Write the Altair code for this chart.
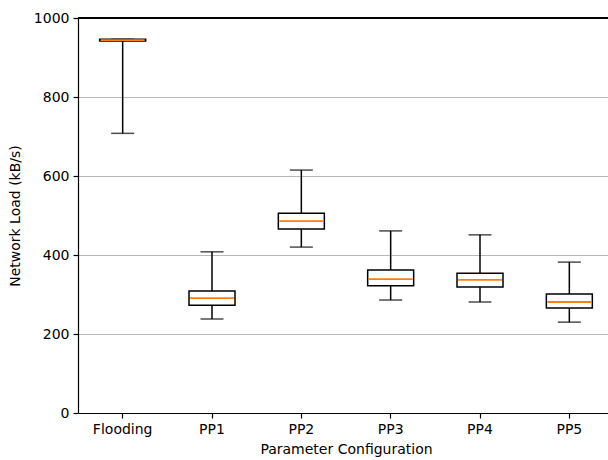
import altair as alt
import pandas as pd

categories = ["Flooding", "PP1", "PP2", "PP3", "PP4", "PP5"]
whisker_low = [708, 238, 420, 286, 281, 230]
q1 = [942, 273, 466, 322, 319, 266]
median = [944, 291, 486, 339, 337, 281]
q3 = [946, 309, 506, 362, 354, 301]
whisker_high = [946, 408, 615, 461, 451, 382]

df = pd.DataFrame({
    "cat": categories,
    "wl": whisker_low,
    "q1": q1,
    "med": median,
    "q3": q3,
    "wh": whisker_high,
})

FONT = "DejaVu Sans"
FS = 14
x = alt.X("cat:N", sort=categories, title="Parameter Configuration",
          scale=alt.Scale(range=[0, 536], paddingInner=0, paddingOuter=0),
          axis=alt.Axis(labelAngle=0, tickSize=5, labelPadding=4, titlePadding=6,
                        domainColor="black", tickColor="black", labelColor="black",
                        titleColor="black", labelFontSize=FS, titleFontSize=FS,
                        titleFontWeight="normal", labelFont=FONT, titleFont=FONT,
                        domainWidth=1.2, tickWidth=1.2))
yscale = alt.Scale(domain=[0, 1000], nice=False)
yaxis = alt.Axis(values=[0, 200, 400, 600, 800, 1000], format="d", tickSize=5, labelPadding=4,
                 titlePadding=11, grid=True, gridColor="#b0b0b0", gridWidth=0.9,
                 domainColor="black", tickColor="black", labelColor="black",
                 titleColor="black", labelFontSize=FS, titleFontSize=FS,
                 titleFontWeight="normal", labelFont=FONT, titleFont=FONT,
                 domainWidth=1.2, tickWidth=1.2)

base = alt.Chart(df)

whisk_lo = base.mark_rule(color="black", strokeWidth=1.5).encode(
    x=x, y=alt.Y("wl:Q", scale=yscale, axis=yaxis, title="Network Load (kB/s)"), y2="q1:Q")
whisk_hi = base.mark_rule(color="black", strokeWidth=1.5).encode(
    x=x, y=alt.Y("q3:Q"), y2="wh:Q")
cap_lo = base.mark_tick(color="black", size=23, thickness=1.5, orient="horizontal").encode(
    x=x, y="wl:Q")
cap_hi = base.mark_tick(color="black", size=23, thickness=1.5, orient="horizontal").encode(
    x=x, y="wh:Q")
box = base.mark_bar(size=46, fill="white", stroke="black", strokeWidth=1.5).encode(
    x=x, y="q1:Q", y2="q3:Q")
med = base.mark_tick(color="#ff7f0e", size=44, thickness=1.8, orient="horizontal",
                     opacity=1).encode(x=x, y="med:Q")
top_spine = alt.Chart(df).mark_rule(color="black", strokeWidth=1.2).encode(
    x=alt.value(0), x2=alt.value(530), y=alt.value(0))

chart = alt.layer(whisk_lo, whisk_hi, cap_lo, cap_hi, box, med, top_spine).properties(
    width=530, height=395,
    autosize=alt.AutoSizeParams(type="none"),
    padding={"left": 78, "top": 18, "right": 0, "bottom": 47},
    background="white",
).configure_view(stroke=None)

chart.save("out.html", embed_options={"renderer": "svg", "actions": False})
